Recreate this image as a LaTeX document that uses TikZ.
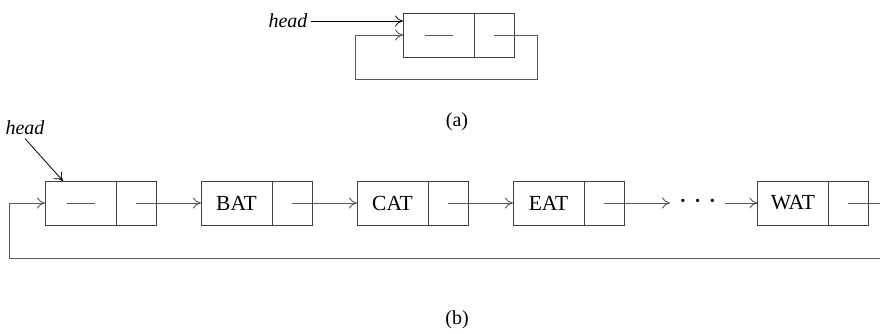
\documentclass[tikz,border=0pt]{standalone}
\usepackage{fontspec}
\setmainfont{Liberation Serif}
\usetikzlibrary{arrows.meta, positioning}

\begin{document}
\begin{tikzpicture}[x=1pt, y=-1pt, font=\fontsize{20}{24}\selectfont, >={To[length=8pt,width=11pt]}]
\path[use as bounding box, clip] (0,0) rectangle (880,334);

\tikzstyle{datacell}=[draw=black!75, line width=0.9pt, outer sep=0pt, inner sep=0pt, minimum width=71pt, minimum height=44pt, font=\fontsize{21.5}{24}\selectfont]
\tikzstyle{linkcell}=[datacell, minimum width=40pt]
\tikzstyle{ptr}=[draw=black!65, line width=0.9pt]

% (a) empty list
\node[datacell] (hd) at (438.5,35) {};
\node[linkcell, right=0pt of hd] (hl) {};
\node[anchor=east] (toph) at (311,21) {\textit{head}};
\coordinate (tr) at (537,79);
\coordinate (tl) at (355,79);

\draw[ptr] ([xshift=-14pt]hd.center) -- ([xshift=14pt]hd.center);
\draw[->, line width=0.8pt] (toph.east) -- (toph.east -| hd.west);
\draw[ptr,->] (hl.center) -| (tr) -- (tl) |- (hd.west);

\node (capa) at (457,122) {(a)};

% (b) list with header node
\node[datacell] (n0) at (80.5,203) {};
\node[linkcell, right=0pt of n0] (n0l) {};
\node[datacell, right=45pt of n0l] (bat) {BAT};
\node[linkcell, right=0pt of bat] (batl) {};
\node[datacell, right=45pt of batl] (cat) {CAT};
\node[linkcell, right=0pt of cat] (catl) {};
\node[datacell, right=45pt of catl] (eat) {EAT};
\node[linkcell, right=0pt of eat] (eatl) {};
\node[inner sep=0pt, minimum width=55pt, right=46pt of eatl] (dots) {\textbf{·}\hspace{8pt}\textbf{·}\hspace{8pt}\textbf{·}};
\node[datacell, right=32pt of dots] (wat) {WAT};
\node[linkcell, right=0pt of wat] (watl) {};
\node (bth) at (25,128) {\textit{head}};
\coordinate (br) at (892,258);
\coordinate (bl) at (9,258);

\draw[ptr] ([xshift=-14pt]n0.center) -- ([xshift=14pt]n0.center);
\draw[->, line width=0.8pt] (bth.south) -- ([xshift=18pt]n0.north west);
\draw[ptr,->] (n0l.center) -- (bat);
\draw[ptr,->] (batl.center) -- (cat);
\draw[ptr,->] (catl.center) -- (eat);
\draw[ptr,->] (eatl.center) -- (dots);
\draw[ptr,->] (dots) -- (wat);
\draw[ptr,->] (watl.center) -| (br) -- (bl) |- (n0.west);

\node (capb) at (457,320) {(b)};

\end{tikzpicture}
\end{document}
